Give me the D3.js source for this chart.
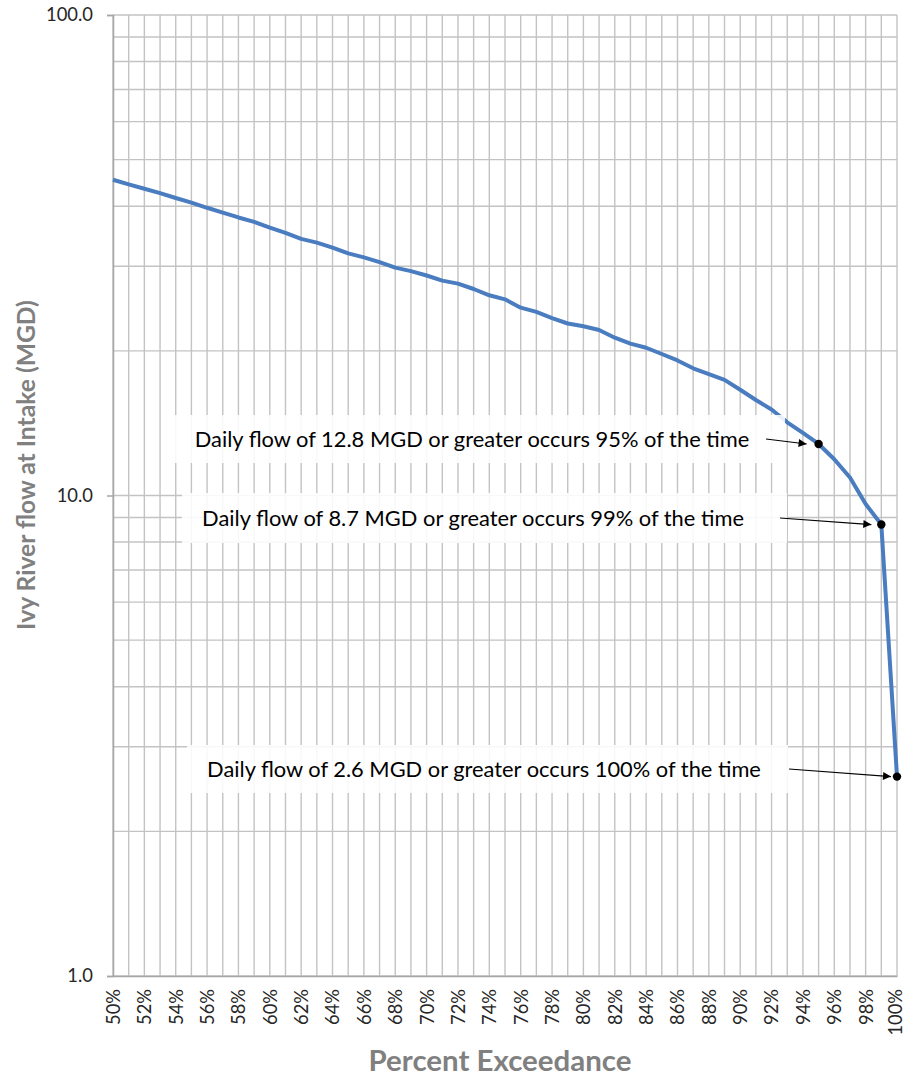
<!DOCTYPE html>
<html>
<head>
<meta charset="utf-8">
<script src="https://cdn.jsdelivr.net/npm/d3@7"></script>
<style>
  body { margin: 0; background: #fff; }
  svg { display: block; font-family: Lato, "Noto Sans", sans-serif; }
</style>
</head>
<body>
<script>
// percent exceedance values (x) and flow in MGD (y)
var pcts = [50, 51, 52, 53, 54, 55, 56, 57, 58, 59,
            60, 61, 62, 63, 64, 65, 66, 67, 68, 69,
            70, 71, 72, 73, 74, 75, 76, 77, 78, 79,
            80, 81, 82, 83, 84, 85, 86, 87, 88, 89,
            90, 91, 92, 93, 94, 95, 96, 97, 98, 99, 100];
var flows = [45.4, 44.4, 43.5, 42.6, 41.6, 40.7, 39.7, 38.8, 37.9, 37.1,
             36.1, 35.2, 34.2, 33.6, 32.8, 31.9, 31.3, 30.6, 29.8, 29.3,
             28.7, 28.0, 27.6, 26.9, 26.1, 25.6, 24.6, 24.1, 23.4, 22.8,
             22.5, 22.1, 21.3, 20.7, 20.3, 19.7, 19.1, 18.4, 17.9, 17.4,
             16.6, 15.8, 15.1, 14.2, 13.5, 12.8, 11.9, 10.9, 9.6, 8.7, 2.6];

// tick labels
var xTicks = d3.range(50, 101, 2);
var yTicks = [1, 10, 100];

// callouts
var notePcts = [95, 99, 100];
var noteFlows = [12.8, 8.7, 2.6];
var noteTexts = [
  "Daily flow of 12.8 MGD or greater occurs 95% of the time",
  "Daily flow of 8.7 MGD or greater occurs 99% of the time",
  "Daily flow of 2.6 MGD or greater occurs 100% of the time"
];

var width = 905, height = 1078;
var margin = {top: 15, right: 8, bottom: 102, left: 113};
var w = width - margin.left - margin.right,
    h = height - margin.top - margin.bottom;

var svg = d3.select("body").append("svg")
    .attr("width", width)
    .attr("height", height);

var g = svg.append("g")
    .attr("transform", "translate(" + margin.left + "," + margin.top + ")");

var x = d3.scaleLinear().domain([50, 100]).range([0, w]);
var y = d3.scaleLog().domain([1, 100]).range([h, 0]);

// scale a text's font size so that it spans a given width
function fitSize(textSel, base, target){
  var len = textSel.node().getComputedTextLength();
  return base * target / len;
}

// gridlines
var minorY = [];
[1, 10].forEach(function(d){ for (var i = 1; i <= 10; i++) minorY.push(d * i); });
minorY = Array.from(new Set(minorY));

g.selectAll(".hgrid").data(minorY).enter().append("line")
    .attr("x1", 0).attr("x2", w)
    .attr("y1", function(d){ return y(d); })
    .attr("y2", function(d){ return y(d); })
    .attr("stroke", "#c3c3c3").attr("stroke-width", 1.4);

g.selectAll(".vgrid").data(d3.range(50, 101, 1)).enter().append("line")
    .attr("y1", 0).attr("y2", h)
    .attr("x1", function(d){ return x(d); })
    .attr("x2", function(d){ return x(d); })
    .attr("stroke", "#c3c3c3").attr("stroke-width", 1.4);

// axes
var yAxis = g.append("g")
    .call(d3.axisLeft(y).tickValues(yTicks).tickSize(6).tickPadding(14)
        .tickFormat(d3.format(".1f")));
yAxis.select(".domain").attr("stroke", "#a6a6a6").attr("stroke-width", 1.5);
yAxis.selectAll(".tick line").attr("stroke", "#a6a6a6").attr("stroke-width", 1.5);
yAxis.selectAll("text").attr("font-size", 16).attr("fill", "#262626")
    .attr("font-family", "Lato, sans-serif");
var ySize = fitSize(yAxis.selectAll("text").filter(function(d){ return d === 100; }), 16, 47);
yAxis.selectAll("text").attr("font-size", ySize);

var xAxis = g.append("g")
    .attr("transform", "translate(0," + h + ")")
    .call(d3.axisBottom(x).tickValues(xTicks).tickSize(0)
        .tickFormat(function(d){ return d + "%"; }));
xAxis.select(".domain").attr("stroke", "#a6a6a6").attr("stroke-width", 1.5);
xAxis.selectAll("text")
    .attr("font-size", 16).attr("fill", "#262626")
    .attr("font-family", "Lato, sans-serif")
    .attr("text-anchor", "end")
    .attr("dy", "0.35em")
    .attr("transform", function(d){
      // keep the last label inside the page edge
      return "translate(" + (d === 100 ? -2 : 0) + ",13) rotate(-90)";
    })
    .attr("x", 0).attr("y", 0);
var xSize = fitSize(xAxis.selectAll("text").filter(function(d){ return d === 50; }), 16, 36);
xAxis.selectAll("text").attr("font-size", xSize);

// axis titles
var xTitle = svg.append("text")
    .attr("x", 500).attr("y", 1071)
    .attr("text-anchor", "middle")
    .attr("font-size", 22).attr("font-weight", "bold").attr("fill", "#808080")
    .text("Percent Exceedance");
xTitle.attr("font-size", fitSize(xTitle, 22, 263));

var yTitle = svg.append("text")
    .attr("transform", "translate(35,465) rotate(-90)")
    .attr("text-anchor", "middle")
    .attr("font-size", 20).attr("font-weight", "bold").attr("fill", "#808080")
    .text("Ivy River flow at Intake (MGD)");
yTitle.attr("font-size", fitSize(yTitle, 20, 330));

// flow duration curve
var line = d3.line()
    .x(function(d, i){ return x(pcts[i]); })
    .y(function(d){ return y(d); });

g.append("path")
    .datum(flows)
    .attr("d", line)
    .attr("fill", "none")
    .attr("stroke", "#4a7cc0")
    .attr("stroke-width", 4)
    .attr("stroke-linejoin", "round");

// arrowhead marker
svg.append("defs").append("marker")
    .attr("id", "arrow")
    .attr("viewBox", "0 0 10 10")
    .attr("refX", 10).attr("refY", 5)
    .attr("markerWidth", 12).attr("markerHeight", 8)
    .attr("markerUnits", "userSpaceOnUse")
    .attr("orient", "auto")
    .append("path").attr("d", "M0,0L10,5L0,10Z").attr("fill", "#000");

// callout layout (pixels relative to plot frame)
var boxes = [
  {x0: 62, x1: 672, y0: 400, y1: 448, tx: 359, ax: 653, gap: 12},
  {x0: 69, x1: 674, y0: 478, y1: 528, tx: 360, ax: 667, gap: 10},
  {x0: 74, x1: 675, y0: 730, y1: 778, tx: 371, ax: 676, gap: 6}
];
var textWidths = [555, 542, 554];

notePcts.forEach(function(p, i){
  var b = boxes[i];
  var px = x(p), py = y(noteFlows[i]);
  g.append("rect")
      .attr("x", b.x0).attr("y", b.y0)
      .attr("width", b.x1 - b.x0).attr("height", b.y1 - b.y0)
      .attr("fill", "#fff").attr("fill-opacity", 0.88);
  var cy = (b.y0 + b.y1) / 2;
  var t = g.append("text")
      .attr("x", b.tx).attr("y", cy)
      .attr("dy", "0.35em")
      .attr("text-anchor", "middle")
      .attr("font-size", 18).attr("fill", "#000")
      .text(noteTexts[i]);
  t.attr("font-size", fitSize(t, 18, textWidths[i]));
  g.append("line")
      .attr("x1", b.ax).attr("y1", cy)
      .attr("x2", px - b.gap).attr("y2", py)
      .attr("stroke", "#000").attr("stroke-width", 1.2)
      .attr("marker-end", "url(#arrow)");
  g.append("circle")
      .attr("cx", px).attr("cy", py).attr("r", 4.2)
      .attr("fill", "#000");
});
</script>
</body>
</html>
